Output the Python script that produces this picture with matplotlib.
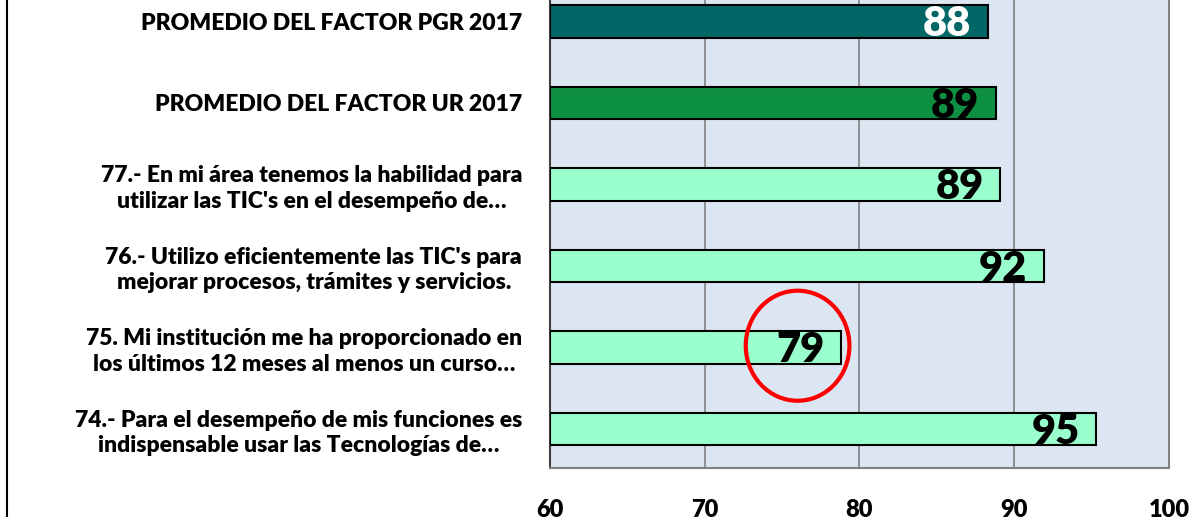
import numpy as np
import matplotlib.pyplot as plt
from matplotlib.patches import Ellipse
from matplotlib.lines import Line2D

# preguntas de abajo hacia arriba
etiquetas = [
    "74.- Para el desempeño de mis funciones es\nindispensable usar las Tecnologías de…",
    "75. Mi institución me ha proporcionado en\nlos últimos 12 meses al menos un curso…",
    "76.- Utilizo eficientemente las TIC's para\nmejorar procesos, trámites y servicios.",
    "77.- En mi área tenemos la habilidad para\nutilizar las TIC's en el desempeño de…",
    "PROMEDIO DEL FACTOR UR 2017",
    "PROMEDIO DEL FACTOR PGR 2017",
]
valores = [95.3, 78.8, 91.9, 89.1, 88.8, 88.3]
textos = ["95", "79", "92", "89", "89", "88"]
colores = ["#99FFCC", "#99FFCC", "#99FFCC", "#99FFCC", "#0E9043", "#006666"]
color_texto = ["black", "black", "black", "black", "black", "white"]

fuente = "Lato"
peso = "heavy"

fig = plt.figure(figsize=(12.03, 5.17), dpi=100)
ax = fig.add_axes([0.4572, 0.0948, 0.5145, 0.946])
ax.set_facecolor("#DCE6F2")

y = np.arange(len(valores))
ax.barh(y, np.array(valores) - 60, left=60, height=0.4, color=colores,
        edgecolor="black", linewidth=1.5, zorder=3)

for i, v in enumerate(valores):
    ax.annotate(textos[i], xy=(v, y[i]), xytext=(-12, -2), textcoords="offset points",
                ha="right", va="center", fontsize=30, fontweight=peso,
                family=fuente, color=color_texto[i], zorder=4)

ax.set_xlim(60, 100)
ax.set_ylim(-0.48, 5.52)
ax.set_xticks([60, 70, 80, 90, 100])
ax.set_yticks(y)
ax.set_yticklabels(etiquetas, fontsize=16.5, fontweight=peso, family=fuente,
                   multialignment="center", linespacing=1.25)
for t in ax.get_xticklabels():
    t.set_fontsize(17)
    t.set_fontweight(peso)
    t.set_family(fuente)
ax.tick_params(axis="y", length=0, pad=20)
ax.tick_params(axis="x", length=0, pad=22)

ax.grid(axis="x", color="#808080", linewidth=1.2, zorder=1)
for lado in ["top", "right", "bottom"]:
    ax.spines[lado].set_color("#808080")
    ax.spines[lado].set_linewidth(1.5)
ax.spines["left"].set_color("#404040")
ax.spines["left"].set_linewidth(1.5)

# círculo rojo alrededor del 79
ax.add_patch(Ellipse((76.0, 1.02), 6.7, 1.35, fill=False, edgecolor="red",
                     linewidth=3, zorder=5))

# borde izquierdo del cuadro
fig.add_artist(Line2D([0.006, 0.006], [0, 1], color="black", linewidth=1.5))

fig.savefig("out.png", dpi=100)
